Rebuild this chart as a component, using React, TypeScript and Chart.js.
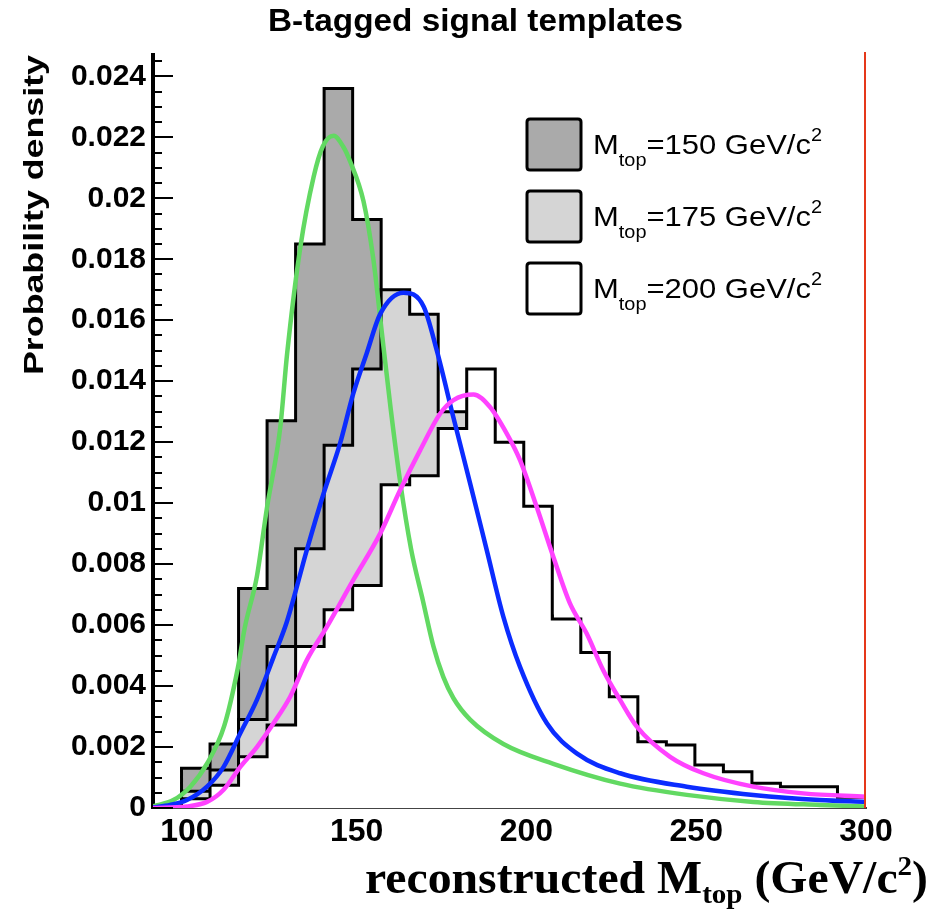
import React, { useEffect, useRef } from "react";
import { Chart, registerables } from "chart.js";

Chart.register(...registerables);

// ---------- text ----------
const TITLE = "B-tagged signal templates";
const Y_TITLE = "Probability density";
const X_TITLE = ["reconstructed M", "top", " (GeV/c", "2", ")"];
const LEGEND_MASSES = ["150", "175", "200"];

// ---------- axes ----------
const X_MIN = 90;
const X_MAX = 300;
const Y_MIN = 0;
const Y_MAX = 0.0247;
const X_TICKS = [100, 150, 200, 250, 300];
const Y_TICKS = [0, 0.002, 0.004, 0.006, 0.008, 0.01, 0.012, 0.014, 0.016, 0.018, 0.02, 0.022, 0.024];
const Y_MINOR_STEP = 0.0005;

// ---------- histograms (25 bins, 90..300) ----------
const BIN_EDGES = [90, 98.4, 106.8, 115.2, 123.6, 132, 140.4, 148.8, 157.2, 165.6, 174, 182.4, 190.8, 199.2, 207.6, 216, 224.4, 232.8, 241.2, 249.6, 258, 266.4, 274.8, 283.2, 291.6, 300];
const HIST_150 = [0, 0.0013, 0.0021, 0.0072, 0.0127, 0.0185, 0.0236, 0.0193, 0.012, 0.008, 0.0055, 0.004, 0.003, 0.0024, 0.0019, 0.0015, 0.0012, 0.001, 0.0008, 0.0006, 0.0005, 0.0004, 0.0003, 0.0003, 0.0002];
const HIST_175 = [0, 0.00055, 0.00125, 0.0029, 0.0053, 0.0085, 0.0119, 0.0144, 0.017, 0.0162, 0.013, 0.011, 0.0085, 0.0063, 0.0045, 0.0032, 0.0023, 0.0017, 0.0013, 0.001, 0.0008, 0.0006, 0.0005, 0.0004, 0.00015];
const HIST_200 = [0, 0.0003, 0.00075, 0.00168, 0.00272, 0.0053, 0.0065, 0.0073, 0.0106, 0.0109, 0.01245, 0.0144, 0.012, 0.0099, 0.0062, 0.0051, 0.00365, 0.00217, 0.00207, 0.00141, 0.00119, 0.00081, 0.0007, 0.0007, 0.00035];

// ---------- fitted curves ----------
const FIT150_X = [90, 96, 101, 106, 111, 115, 117, 120.6, 123.5, 127.5, 129.5, 133.4, 137.3, 140, 143.2, 146, 148.1, 152, 154.9, 157.5, 160, 162.8, 166, 169.5, 172.6, 175.5, 178.5, 183.4, 193.2, 207.9, 227.6, 247.2, 266.8, 286.4, 300];
const FIT150_Y = [0.00005, 0.00026, 0.0007, 0.00147, 0.0027, 0.0046, 0.0059, 0.0076, 0.0098, 0.0125, 0.0149, 0.0184, 0.0207, 0.0217, 0.02205, 0.0217, 0.0212, 0.0199, 0.018, 0.0155, 0.0131, 0.0107, 0.0085, 0.0068, 0.0053, 0.0043, 0.0036, 0.0029, 0.0021, 0.00145, 0.0008, 0.00043, 0.0002, 0.0001, 0.00005];

const FIT175_X = [90, 95, 100, 105.9, 110.8, 115.7, 120.6, 125.5, 129.4, 135.3, 140.2, 145.1, 149, 152.9, 156.9, 163.8, 169.7, 173.6, 178.5, 183.4, 188.3, 193.2, 198.1, 206, 214.8, 227.6, 247.2, 266.8, 286.4, 300];
const FIT175_Y = [0.00002, 0.0001, 0.00026, 0.0007, 0.00135, 0.00245, 0.00355, 0.00495, 0.0061, 0.00846, 0.0103, 0.01196, 0.0136, 0.0149, 0.0162, 0.0169, 0.01645, 0.015, 0.0128, 0.01065, 0.00846, 0.00627, 0.00463, 0.00278, 0.00179, 0.00114, 0.0007, 0.00043, 0.00026, 0.0002];

const FIT200_X = [90, 100, 105.9, 110.8, 115.7, 120.6, 125.5, 130.4, 135.3, 141.2, 149, 156.9, 162.8, 168.7, 174.6, 178.5, 184.4, 189.2, 194.2, 198.1, 203, 207.9, 212.8, 217.7, 222.6, 227.6, 232.5, 242.3, 252.1, 266.8, 281.5, 300];
const FIT200_Y = [0, 0.00005, 0.0002, 0.0006, 0.00135, 0.002, 0.00278, 0.00365, 0.00485, 0.00594, 0.00748, 0.009, 0.01043, 0.01174, 0.01294, 0.01338, 0.01356, 0.01316, 0.01228, 0.01141, 0.00988, 0.00824, 0.00671, 0.00573, 0.00452, 0.00354, 0.00267, 0.00168, 0.00114, 0.0007, 0.00048, 0.00037];

// ---------- styles ----------
const DARK_FILL = "#aaaaaa";
const LIGHT_FILL = "#d5d5d5";
const WHITE_FILL = "#ffffff";
const GREEN = "#62d962";
const BLUE = "#0b2cff";
const MAGENTA = "#ff42ff";
const SANS = '"Liberation Sans", Arial, Helvetica, sans-serif';
const SERIF = '"Liberation Serif", "Times New Roman", Times, serif';

function histPoints(values: number[]) {
  const pts = values.map((v, i) => ({ x: BIN_EDGES[i], y: v }));
  pts.push({ x: BIN_EDGES[BIN_EDGES.length - 1], y: values[values.length - 1] });
  return pts;
}

function curvePoints(xs: number[], ys: number[]) {
  return xs.map((x, i) => ({ x, y: ys[i] }));
}

type Seg = { t: string; font: string; dy: number };

function drawRich(ctx: CanvasRenderingContext2D, segs: Seg[], x: number, y: number, targetWidth: number | null, align: "left" | "right" | "center") {
  let total = 0;
  const widths = segs.map((s) => {
    ctx.font = s.font;
    const w = ctx.measureText(s.t).width;
    total += w;
    return w;
  });
  const sx = targetWidth ? targetWidth / total : 1;
  const drawn = total * sx;
  let x0 = x;
  if (align === "right") x0 = x - drawn;
  else if (align === "center") x0 = x - drawn / 2;
  ctx.save();
  ctx.translate(x0, y);
  ctx.scale(sx, 1);
  ctx.textAlign = "left";
  ctx.textBaseline = "alphabetic";
  let cx = 0;
  segs.forEach((s, i) => {
    ctx.font = s.font;
    ctx.fillText(s.t, cx, s.dy);
    cx += widths[i];
  });
  ctx.restore();
}

const overlayPlugin = {
  id: "rootOverlay",
  afterDraw(chart: any) {
    const { ctx, chartArea: ca, scales } = chart;
    const ys = scales.y;
    ctx.save();
    ctx.fillStyle = "#000";

    // inward y ticks (ROOT style)
    ctx.strokeStyle = "#000";
    ctx.lineWidth = 2;
    for (let i = 0; ; i++) {
      const v = i * Y_MINOR_STEP;
      if (v > Y_MAX + 1e-9) break;
      const py = Math.round(ys.getPixelForValue(v));
      const major = i % 4 === 0;
      ctx.beginPath();
      ctx.moveTo(ca.left, py);
      ctx.lineTo(ca.left + (major ? 20 : 9), py);
      ctx.stroke();
    }

    // right frame edge (red)
    ctx.strokeStyle = "#e5381a";
    ctx.lineWidth = 2;
    ctx.beginPath();
    ctx.moveTo(ca.right - 1, ca.top - 3);
    ctx.lineTo(ca.right - 1, ca.bottom);
    ctx.stroke();

    // title
    drawRich(ctx, [{ t: TITLE, font: `bold 31px ${SANS}`, dy: 0 }], 475.5, 31, 415, "center");

    // y-axis title (rotated, aligned to top)
    ctx.save();
    ctx.translate(43, 55);
    ctx.rotate(-Math.PI / 2);
    drawRich(ctx, [{ t: Y_TITLE, font: `bold 28px ${SANS}`, dy: 0 }], 0, 0, 320, "right");
    ctx.restore();

    // x-axis title
    const big = `bold 46px ${SERIF}`;
    const small = `bold 28px ${SERIF}`;
    drawRich(
      ctx,
      [
        { t: X_TITLE[0], font: big, dy: 0 },
        { t: X_TITLE[1], font: small, dy: 10 },
        { t: X_TITLE[2], font: big, dy: 0 },
        { t: X_TITLE[3], font: small, dy: -18 },
        { t: X_TITLE[4], font: big, dy: 0 },
      ],
      928,
      893,
      563,
      "right"
    );

    // legend
    const fills = [DARK_FILL, LIGHT_FILL, WHITE_FILL];
    const boxTops = [119, 191, 263];
    boxTops.forEach((top, i) => {
      const bx = 527, bw = 54, bh = 51, r = 3;
      ctx.beginPath();
      ctx.moveTo(bx + r, top);
      ctx.lineTo(bx + bw - r, top);
      ctx.quadraticCurveTo(bx + bw, top, bx + bw, top + r);
      ctx.lineTo(bx + bw, top + bh - r);
      ctx.quadraticCurveTo(bx + bw, top + bh, bx + bw - r, top + bh);
      ctx.lineTo(bx + r, top + bh);
      ctx.quadraticCurveTo(bx, top + bh, bx, top + bh - r);
      ctx.lineTo(bx, top + r);
      ctx.quadraticCurveTo(bx, top, bx + r, top);
      ctx.closePath();
      ctx.fillStyle = fills[i];
      ctx.fill();
      ctx.strokeStyle = "#000";
      ctx.lineWidth = 3;
      ctx.stroke();
      ctx.fillStyle = "#000";
      const f = `28px ${SANS}`;
      const fs = `18px ${SANS}`;
      drawRich(
        ctx,
        [
          { t: "M", font: f, dy: 0 },
          { t: "top", font: fs, dy: 12 },
          { t: `=${LEGEND_MASSES[i]} GeV/c`, font: f, dy: 0 },
          { t: "2", font: fs, dy: -13 },
        ],
        593,
        top + 34.5,
        229,
        "left"
      );
    });

    ctx.restore();
  },
};

export default function App() {
  const canvasRef = useRef<HTMLCanvasElement | null>(null);

  useEffect(() => {
    if (!canvasRef.current) return;
    const histStyle = {
      type: "line" as const,
      stepped: "before" as const,
      borderColor: "#000",
      borderWidth: 3,
      pointRadius: 0,
      fill: "origin",
    };
    const curveStyle = {
      type: "line" as const,
      pointRadius: 0,
      borderWidth: 4.5,
      fill: false,
      cubicInterpolationMode: "monotone" as const,
    };
    const chart = new Chart(canvasRef.current, {
      type: "line",
      data: {
        datasets: [
          { ...curveStyle, label: "fit 200", data: curvePoints(FIT200_X, FIT200_Y), borderColor: MAGENTA, order: 0 },
          { ...curveStyle, label: "fit 175", data: curvePoints(FIT175_X, FIT175_Y), borderColor: BLUE, order: 1 },
          { ...curveStyle, label: "fit 150", data: curvePoints(FIT150_X, FIT150_Y), borderColor: GREEN, order: 2 },
          { ...histStyle, label: "Mtop=200", data: histPoints(HIST_200), backgroundColor: WHITE_FILL, order: 3 },
          { ...histStyle, label: "Mtop=175", data: histPoints(HIST_175), backgroundColor: LIGHT_FILL, order: 4 },
          { ...histStyle, label: "Mtop=150", data: histPoints(HIST_150), backgroundColor: DARK_FILL, order: 5 },
        ] as any,
      },
      options: {
        responsive: false,
        devicePixelRatio: 1,
        animation: false,
        events: [],
        layout: { padding: { top: 55, right: 82, left: 0, bottom: 0 } },
        plugins: {
          legend: { display: false },
          title: { display: false },
          tooltip: { enabled: false },
        },
        scales: {
          x: {
            type: "linear",
            min: X_MIN,
            max: X_MAX,
            afterBuildTicks: (scale: any) => {
              scale.ticks = X_TICKS.map((v) => ({ value: v }));
            },
            afterFit: (scale: any) => {
              scale.height = 110;
            },
            grid: { drawOnChartArea: false, drawTicks: false },
            border: { display: true, color: "#444", width: 2 },
            ticks: {
              color: "#000",
              padding: 5,
              maxRotation: 0,
              autoSkip: false,
              font: { family: SANS, size: 32, weight: "bold" },
              callback: (v: any) => String(v),
            },
          },
          y: {
            type: "linear",
            min: Y_MIN,
            max: Y_MAX,
            afterBuildTicks: (scale: any) => {
              scale.ticks = Y_TICKS.map((v) => ({ value: v }));
            },
            afterFit: (scale: any) => {
              scale.width = 153;
            },
            grid: { drawOnChartArea: false, drawTicks: false },
            border: { display: true, color: "#000", width: 4 },
            ticks: {
              color: "#000",
              padding: 7,
              autoSkip: false,
              font: { family: SANS, size: 30, weight: "bold" },
              callback: (v: any) => String(parseFloat(Number(v).toFixed(4))),
            },
          },
        },
      },
      plugins: [overlayPlugin],
    } as any);
    return () => chart.destroy();
  }, []);

  return (
    <div style={{ position: "fixed", left: 0, top: 0, width: 948, height: 918, background: "#fff" }}>
      <canvas ref={canvasRef} width={948} height={918} style={{ width: 948, height: 918, display: "block" }} />
    </div>
  );
}
